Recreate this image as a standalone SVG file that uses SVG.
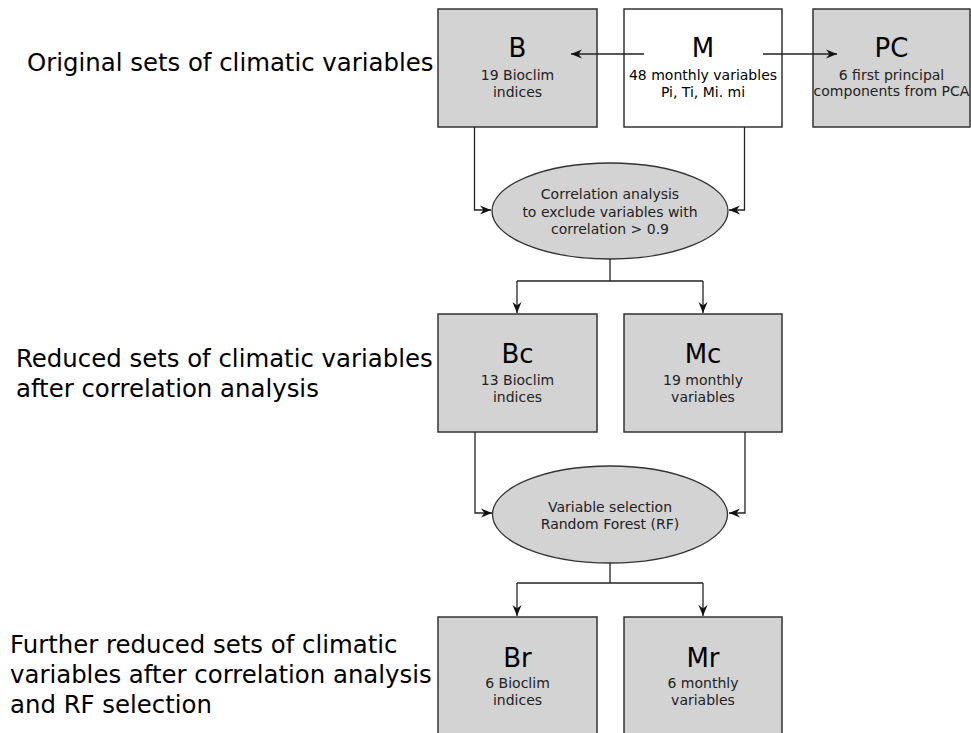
<svg xmlns="http://www.w3.org/2000/svg" width="971" height="733" viewBox="0 0 971 733">
<style>
.box{fill:#d3d3d3;stroke:#333;stroke-width:1.5}
.wbox{fill:#fff;stroke:#333;stroke-width:1.5}
.ell{fill:#d3d3d3;stroke:#333;stroke-width:1.3}
.ttl{font-family:"DejaVu Sans",sans-serif;font-size:26px;fill:#000;text-anchor:middle}
.sub{font-family:"DejaVu Sans",sans-serif;font-size:14px;fill:#222;text-anchor:middle}
.lbl{font-family:"DejaVu Sans",sans-serif;font-size:24.4px;fill:#000}
.con{fill:none;stroke:#222;stroke-width:1.3}
</style>
<defs>
<marker id="ah" viewBox="-12 -6 14 12" markerWidth="14" markerHeight="12" refX="0" refY="0" orient="auto" markerUnits="userSpaceOnUse">
<path d="M0,0 L-11,-4.5 L-7.5,0 L-11,4.5 Z" fill="#111"/>
</marker>
</defs>
<rect width="971" height="733" fill="#fff"/>
<g id="labels">
<text class="lbl" x="27" y="71">Original sets of climatic variables</text>
<text class="lbl" x="16" y="367">Reduced sets of climatic variables</text>
<text class="lbl" x="16" y="397">after correlation analysis</text>
<text class="lbl" x="10" y="653">Further reduced sets of climatic</text>
<text class="lbl" x="10" y="683">variables after correlation analysis</text>
<text class="lbl" x="10" y="713">and RF selection</text>
</g>
<g id="B">
<rect class="box" x="438" y="9" width="159" height="118"/>
<text class="ttl" x="517.5" y="57">B</text>
<text class="sub" x="517.5" y="80">19 Bioclim</text>
<text class="sub" x="517.5" y="97">indices</text>
</g>
<g id="M">
<rect class="wbox" x="624" y="9" width="158" height="118"/>
<text class="ttl" x="703" y="57">M</text>
<text class="sub" x="703" y="80" style="fill:#000">48 monthly variables</text>
<text class="sub" x="703" y="97" style="fill:#000">Pi, Ti, Mi. mi</text>
</g>
<g id="PC">
<rect class="box" x="813" y="9" width="157" height="118"/>
<text class="ttl" x="891.5" y="57">PC</text>
<text class="sub" x="891.5" y="80">6 first principal</text>
<text class="sub" x="891.5" y="96">components from PCA</text>
</g>
<g id="corr">
<ellipse class="ell" cx="610" cy="211" rx="118" ry="48"/>
<text class="sub" x="610" y="199">Correlation analysis</text>
<text class="sub" x="610" y="217">to exclude variables with</text>
<text class="sub" x="610" y="234">correlation &gt; 0.9</text>
</g>
<g id="Bc">
<rect class="box" x="438" y="314" width="159" height="118"/>
<text class="ttl" x="517.5" y="363">Bc</text>
<text class="sub" x="517.5" y="385">13 Bioclim</text>
<text class="sub" x="517.5" y="402">indices</text>
</g>
<g id="Mc">
<rect class="box" x="624" y="314" width="158" height="118"/>
<text class="ttl" x="703" y="363">Mc</text>
<text class="sub" x="703" y="385">19 monthly</text>
<text class="sub" x="703" y="402">variables</text>
</g>
<g id="rf">
<ellipse class="ell" cx="610" cy="514.5" rx="117.5" ry="48.5"/>
<text class="sub" x="610" y="512">Variable selection</text>
<text class="sub" x="610" y="529">Random Forest (RF)</text>
</g>
<g id="Br">
<rect class="box" x="438" y="617" width="159" height="130"/>
<text class="ttl" x="517.5" y="667">Br</text>
<text class="sub" x="517.5" y="688">6 Bioclim</text>
<text class="sub" x="517.5" y="705">indices</text>
</g>
<g id="Mr">
<rect class="box" x="624" y="617" width="158" height="130"/>
<text class="ttl" x="703" y="667">Mr</text>
<text class="sub" x="703" y="688">6 monthly</text>
<text class="sub" x="703" y="705">variables</text>
</g>
<g id="connectors">
<path class="con" d="M644,54 H571" marker-end="url(#ah)"/>
<path class="con" d="M763,54 H837" marker-end="url(#ah)"/>
<path class="con" d="M474.5,127 V210 H491" marker-end="url(#ah)"/>
<path class="con" d="M744.5,127 V210 H729" marker-end="url(#ah)"/>
<path class="con" d="M610,259 V281"/>
<path class="con" d="M517,281 H703"/>
<path class="con" d="M517,281 V313" marker-end="url(#ah)"/>
<path class="con" d="M703,281 V313" marker-end="url(#ah)"/>
<path class="con" d="M475,432 V513 H492" marker-end="url(#ah)"/>
<path class="con" d="M745,432 V513 H729" marker-end="url(#ah)"/>
<path class="con" d="M610,563 V583"/>
<path class="con" d="M517,583 H703"/>
<path class="con" d="M517,583 V616" marker-end="url(#ah)"/>
<path class="con" d="M703,583 V616" marker-end="url(#ah)"/>
</g>
</svg>
